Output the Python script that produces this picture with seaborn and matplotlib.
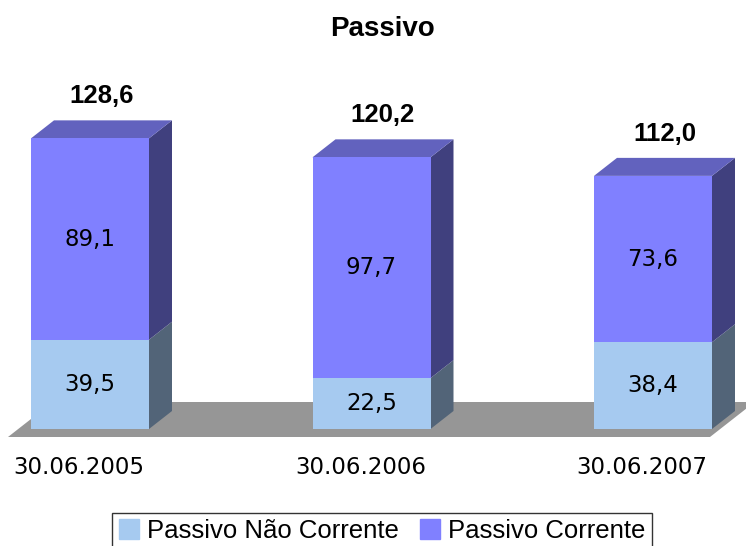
import numpy as np
import pandas as pd
from matplotlib import pyplot as plt
from matplotlib.patches import Polygon, Patch
import seaborn as sns

sns.set_theme(style='white')
plt.rcParams['font.family'] = ['DejaVu Sans']
plt.rcParams['text.color'] = 'black'

categorias = ["30.06.2005", "30.06.2006", "30.06.2007"]
nao_corrente = [39.5, 22.5, 38.4]
corrente = [89.1, 97.7, 73.6]
totais = [128.6, 120.2, 112.0]

cor_nc = '#A6CAF0'
cor_c = '#8080FF'
cor_topo = '#6262BE'
cor_lado_c = '#40407E'
cor_lado_nc = '#526478'
cor_chao = '#969696'

# pixel geometry of the reference
px_cat = 281.5   # px per category step
px_val = 2.26    # px per unit of value
dx = 23 / px_cat
dy = 18 / px_val

dados = pd.DataFrame({
    'data': categorias,
    'nao_corrente': nao_corrente,
    'corrente': corrente,
    'total': np.array(nao_corrente) + np.array(corrente),
})

fig = plt.figure(figsize=(7.46, 5.46), dpi=100)
ax = fig.add_axes([0, 0, 1, 1])

sns.barplot(data=dados, x='data', y='total', order=categorias, color=cor_c,
            saturation=1, width=118 / px_cat, ax=ax, zorder=3, linewidth=0)
sns.barplot(data=dados, x='data', y='nao_corrente', order=categorias, color=cor_nc,
            saturation=1, width=118 / px_cat, ax=ax, zorder=3, linewidth=0)

ax.set_xlim(-90 / px_cat, (746 - 90) / px_cat)
ax.set_ylim((429 - 546) / px_val, 429 / px_val)
ax.set_axis_off()

n = len(categorias)
retangulos = [p for p in ax.patches if isinstance(p, plt.Rectangle)]

# floor
frente = -8 / px_val
fundo = 27 / px_val
x_esq = (8 - 90) / px_cat
x_dir = (710 - 90) / px_cat
sombra = (fundo - frente) * dx / dy
ax.add_patch(Polygon([(x_esq, frente), (x_dir, frente), (x_dir + sombra, fundo),
                      (x_esq + sombra, fundo)], closed=True, color=cor_chao, zorder=0, lw=0))

for i, (p_tot, p_nc) in enumerate(zip(retangulos[:n], retangulos[n:2 * n])):
    x0 = p_tot.get_x()
    x1 = x0 + p_tot.get_width()
    h_nc = p_nc.get_height()
    h_tot = p_tot.get_height()
    # right sides
    ax.add_patch(Polygon([(x1, 0), (x1 + dx, dy), (x1 + dx, h_nc + dy), (x1, h_nc)],
                         closed=True, color=cor_lado_nc, zorder=2, lw=0))
    ax.add_patch(Polygon([(x1, h_nc), (x1 + dx, h_nc + dy), (x1 + dx, h_tot + dy), (x1, h_tot)],
                         closed=True, color=cor_lado_c, zorder=2, lw=0))
    # top
    ax.add_patch(Polygon([(x0, h_tot), (x0 + dx, h_tot + dy), (x1 + dx, h_tot + dy), (x1, h_tot)],
                         closed=True, color=cor_topo, zorder=2, lw=0))
    xc = (x0 + x1) / 2
    ax.text(xc, h_nc / 2, f"{nao_corrente[i]:.1f}".replace('.', ','), ha='center', va='center',
            fontsize=16.5, color='black', zorder=5)
    ax.text(xc, h_nc + corrente[i] / 2, f"{corrente[i]:.1f}".replace('.', ','), ha='center',
            va='center', fontsize=16.5, color='black', zorder=5)
    ax.text(xc + dx / 2, h_tot + 42 / px_val, f"{totais[i]:.1f}".replace('.', ','), ha='center',
            va='center', fontsize=18.5, fontweight='bold', family=['Liberation Sans'],
            color='black', zorder=5)
    ax.text(i - 11 / px_cat, (429 - 467) / px_val, categorias[i], ha='center', va='center',
            fontsize=16.5, color='black')

fig.text(382 / 746, 1 - 29 / 546, "Passivo", ha='center', va='center', fontsize=20,
         fontweight='bold', family=['Liberation Sans'], color='black')

handles = [Patch(color=cor_nc, label='Passivo Não Corrente'),
           Patch(color=cor_c, label='Passivo Corrente')]
leg = fig.legend(handles=handles, loc='center', bbox_to_anchor=(382 / 746, 1 - 531 / 546),
                 ncol=2, frameon=True, fancybox=False, edgecolor='black',
                 prop={'family': 'Liberation Sans', 'size': 18.5}, handlelength=0.8,
                 handleheight=0.8, handletextpad=0.3, columnspacing=0.8, borderpad=0.25,
                 borderaxespad=0, labelcolor='black')
leg.get_frame().set_linewidth(1.0)

fig.savefig('out.png', dpi=100)
